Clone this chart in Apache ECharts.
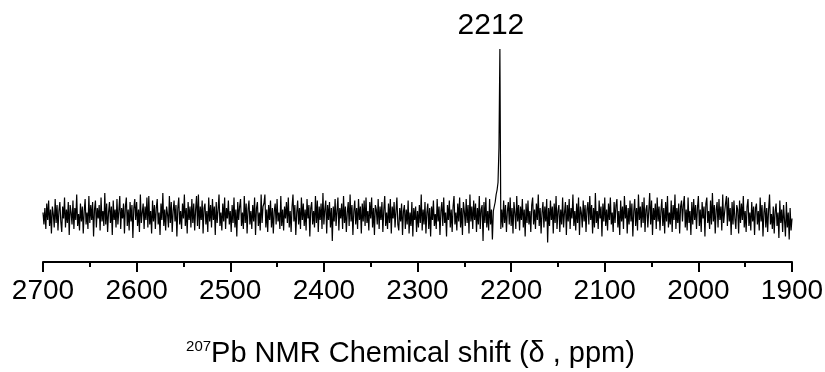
<!DOCTYPE html>
<html>
<head>
<meta charset="utf-8">
<title>207Pb NMR</title>
<script src="https://cdn.jsdelivr.net/npm/echarts@6/dist/echarts.min.js"></script>
<style>
  html, body { margin: 0; padding: 0; background: #fff; }
  #chart { width: 825px; height: 372px; }
</style>
</head>
<body>
<div id="chart"></div>
<script>
// spectrum sampled every 1 ppm, from 2700 down to 1900
const shiftStart = 2700
const shiftStep = -1
const peakShift = 2212
const xTicks = [1900, 2700, 100] // min, max, interval

// intensities (baseline = 0), 20 points per row
const intensity = [
  2, -6, 5, -9, 8, -3, 10, -7, 4, -12, 6, 1, -8, 11, -5, 7, -10, 3, 9, -4,        // 2700
  -11, 6, -2, 12, -8, 4, -5, 9, -13, 7, 2, -6, 10, -9, 5, -3, 14, -7, 1, -10,    // 2680
  8, -4, 6, -12, 3, 11, -6, 2, -9, 13, -5, 7, -3, 9, -14, 4, 10, -8, 5, -2,      // 2660
  7, -10, 12, -4, 3, -7, 15, -6, 8, -11, 2, 9, -5, 6, -13, 10, -3, 4, -8, 11,    // 2640
  -6, 3, 13, -9, 5, -2, 8, -12, 6, 12, -7, 4, -10, 9, -4, 7, -15, 5, 11, -3,     // 2620
  9, -7, 4, -11, 14, -5, 2, 8, -9, 6, -3, 12, -8, 13, -6, 3, -12, 10, -4, 7,     // 2600
  -9, 5, 11, -6, 2, -13, 8, -3, 15, -7, 4, -10, 6, 1, -8, 13, -5, 9, -11, 3,     // 2580
  10, -4, 7, -14, 5, 12, -6, 3, -9, 8, -2, 14, -7, 5, -12, 9, -3, 6, -8, 11,     // 2560
  -5, 8, -10, 4, 13, -7, 14, -9, 6, -3, 10, -12, 5, 8, -6, 3, -11, 12, -4, 7,    // 2540
  -8, 11, -3, 6, -13, 9, -5, 4, 14, -7, 2, -10, 8, -4, 12, -9, 5, -2, 10, -6,    // 2520
  3, -11, 7, -5, 12, -8, 4, -14, 9, -3, 6, 11, -7, 2, -9, 13, -5, 8, -12, 4,     // 2500
  10, -6, 3, -9, 7, -4, 12, -13, 5, 9, -7, 2, -10, 14, -5, 6, 8, 14, -8, 4,      // 2480
  -11, 7, -3, 10, -8, 5, -12, 3, 8, -6, 11, -4, 2, -9, 13, -7, 4, -10, 6, -2,    // 2460
  9, -5, 12, -8, 3, -11, 6, 14, -4, 7, -13, 2, 10, -6, 5, -9, 12, -3, 8, -7,     // 2440
  4, -10, 11, -2, 7, -14, 5, 9, -6, 3, -8, 13, -5, 10, -11, 6, -3, 8, -9, 15,    // 2420
  -6, 4, 10, -12, 7, -3, 9, -8, 5, -17, 6, -4, 11, -7, 3, 12, -10, 5, -2, 8,     // 2400
  -9, 13, -5, 6, -11, 2, 9, -7, 14, -4, 7, -13, 3, 10, -6, 5, -9, 11, -3, 6,     // 2380
  -12, 8, -4, 10, -7, 12, -5, 3, -10, 9, -2, 12, -8, 5, -13, 7, 4, -6, 11, -9,   // 2360
  6, -3, 9, -11, 4, 13, -7, 2, -9, 8, -5, 11, -12, 6, -2, 9, -8, 3, 12, -6,      // 2340
  -10, 5, -4, 8, -13, 3, 7, -9, 4, -6, 10, -12, 2, -7, 9, -14, 5, -3, 6, -11,    // 2320
  3, -8, 7, -5, 14, -10, 4, -6, 9, -12, 2, 8, -9, 5, -14, 6, -3, 10, -7, 1,      // 2300
  -9, 11, -4, 6, -13, 3, 9, -7, 12, -5, 2, -14, 7, -3, 10, -8, 4, -11, 6, 13,    // 2280
  -6, 2, -10, 8, -4, 12, -8, 5, -13, 9, 3, -7, 11, -5, 7, -12, 14, -4, 6, -9,    // 2260
  10, -3, 8, -11, 5, -6, 13, -9, 4, 7, -17, 9, -5, 12, -8, 3, -10, 11, -6, 4,    // 2240
  -16, 3, 6, 9, 14, 17, 22, 45, 111, -9, 4, -8, 10, -5, 7, -11, 3, 9, -6, 12,    // 2220
  -7, 5, -12, 9, 2, -9, 13, -4, 7, -10, 6, -3, 11, -8, 4, -14, 8, -5, 10, -6,    // 2200
  3, -11, 7, 12, -6, 4, -9, 8, -3, 14, -7, 5, -12, 2, 9, -8, 6, -4, 11, -18,     // 2180
  5, -7, 10, -3, 6, -12, 8, -5, 13, -9, 3, 7, -11, 4, -6, 12, -8, 2, 9, -13,     // 2160
  7, -4, 11, -9, 5, -2, 14, -7, 3, -10, 8, -5, 12, -13, 6, 2, -8, 10, -4, 7,     // 2140
  -11, 4, 9, -6, 13, -3, 7, -12, 5, -8, 15, -5, 3, -9, 10, -2, 6, -14, 8, -4,    // 2120
  12, -7, 4, -10, 8, -3, 12, -6, 2, -11, 9, -5, 7, 11, -8, 3, -13, 10, -4, 6,    // 2100
  -9, 13, -2, 7, -12, 5, -6, 10, -4, 8, -14, 3, 11, -7, 5, -10, 14, -3, 6, -8,   // 2080
  9, -5, 12, -11, 4, 7, -8, 3, 15, -6, 10, -13, 5, -3, 8, -9, 12, -4, 6, -10,    // 2060
  3, 11, -7, 5, -12, 9, -4, 13, -8, 2, -6, 10, -11, 7, -3, 14, -9, 5, -5, 8,     // 2040
  -12, 6, 10, -4, 7, 13, -8, 4, -10, 12, -5, 3, -13, 9, -6, 11, -3, 7, -9, 5,    // 2020
  13, -7, 4, -11, 9, -2, 6, -14, 8, 12, -5, 3, -9, 10, -6, 15, -4, 7, -12, 4,    // 2000
  9, -8, 11, -3, 6, -10, 14, -5, 2, 8, 13, -7, 12, -4, 5, -13, 9, -6, 10, -2,    // 1980
  -9, 7, 4, -12, 10, -5, 8, -3, 13, -8, 3, -11, 6, 11, -7, 2, -10, 9, -4, 6,     // 1960
  -13, 5, 8, -6, 3, -10, 12, -4, 7, -14, 2, 9, -8, 5, -11, 4, 14, -6, 1, -9,     // 1940
  6, -12, 3, 8, -7, 2, -15, 10, -5, 4, -11, 7, -3, -14, 9, -8, 2, -16, 5, -10,   // 1920
  -2                                                                              // 1900
]

const spectrum = intensity.map((v, i) => [shiftStart + i * shiftStep, v])
const peakValue = intensity[shiftStart - peakShift]

const fontFamily = 'Arial, "Liberation Sans", sans-serif'

let myChart = echarts.init(document.getElementById('chart'))
let option = {
  animation: false,
  backgroundColor: '#fff',
  grid: {
    left: 43,
    right: 33,
    top: 40,
    bottom: 110,
    containLabel: false,
    outerBoundsMode: 'none'
  },
  xAxis: {
    type: 'value',
    inverse: true,
    min: xTicks[0],
    max: xTicks[1],
    interval: xTicks[2],
    splitLine: { show: false },
    axisLine: {
      onZero: false,
      lineStyle: { color: '#000', width: 2 }
    },
    axisTick: {
      inside: false,
      length: 10,
      lineStyle: { color: '#000', width: 2 }
    },
    minorTick: {
      show: true,
      splitNumber: 2,
      length: 5,
      lineStyle: { color: '#000', width: 2 }
    },
    axisLabel: {
      color: '#000',
      fontSize: 28,
      fontFamily: fontFamily,
      margin: 15,
      showMinLabel: true,
      showMaxLabel: true,
      formatter: v => String(v)
    },
    name: '{sup|207}{main|Pb NMR Chemical shift (δ , ppm)}',
    nameLocation: 'middle',
    nameGap: 77,
    nameTextStyle: {
      color: '#000',
      fontFamily: fontFamily,
      padding: [0, 14, 0, 0],
      rich: {
        sup: { fontSize: 15, fontFamily: fontFamily, color: '#000', verticalAlign: 'top', padding: [0, 0, 12, 0] },
        main: { fontSize: 29, fontFamily: fontFamily, color: '#000' }
      }
    }
  },
  yAxis: {
    type: 'value',
    show: false,
    min: -31,
    max: 117
  },
  series: [
    {
      type: 'line',
      data: spectrum,
      showSymbol: false,
      symbol: 'none',
      lineStyle: { color: '#000', width: 1.2 },
      markPoint: {
        symbol: 'circle',
        symbolSize: 0,
        data: [{ coord: [peakShift, peakValue] }],
        label: {
          show: true,
          position: 'top',
          distance: 8,
          offset: [-9, 0],
          formatter: String(peakShift),
          color: '#000',
          fontSize: 30,
          fontFamily: fontFamily
        }
      }
    }
  ]
}
myChart.setOption(option)
</script>
</body>
</html>
